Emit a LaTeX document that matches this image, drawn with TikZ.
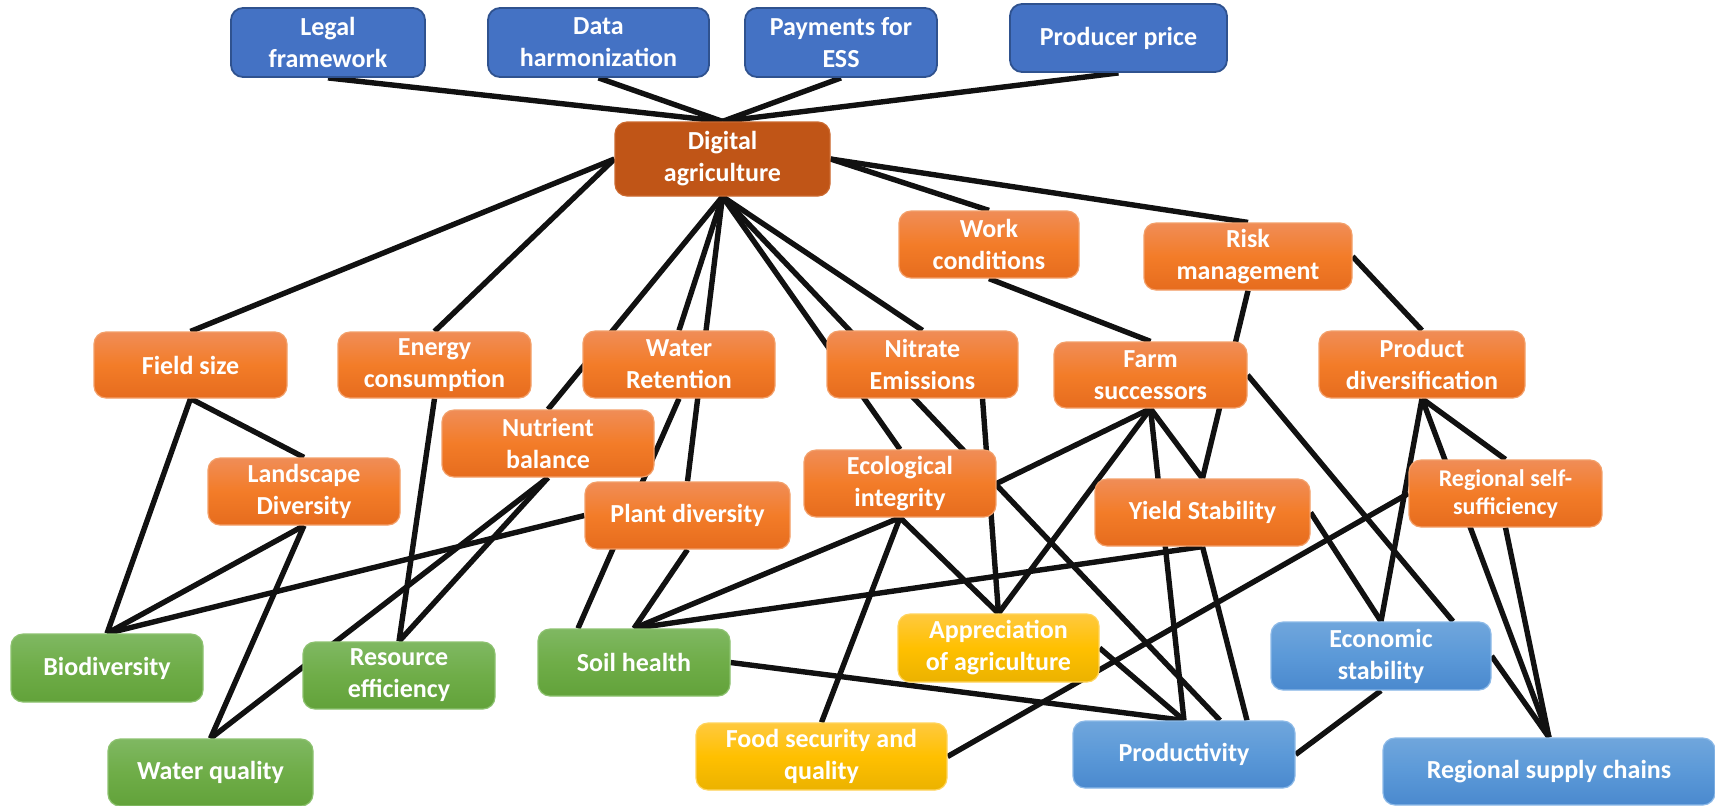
\documentclass[tikz,border=0pt]{standalone}
\usepackage{fontspec}
\setmainfont{Carlito}
\usetikzlibrary{backgrounds}

% palette
\definecolor{topblue}{HTML}{4472C4}
\definecolor{topblueedge}{HTML}{2F528F}
\definecolor{corefill}{HTML}{C05517}
\definecolor{coreedge}{HTML}{CC6A30}
\definecolor{orA}{HTML}{F08D57}
\definecolor{orB}{HTML}{F37C28}
\definecolor{orC}{HTML}{E66C1E}
\definecolor{orEdge}{HTML}{F3A06A}
\definecolor{grA}{HTML}{7FB862}
\definecolor{grB}{HTML}{6FAD48}
\definecolor{grC}{HTML}{62A23A}
\definecolor{grEdge}{HTML}{8DC270}
\definecolor{yeA}{HTML}{FFC93F}
\definecolor{yeB}{HTML}{FFC000}
\definecolor{yeC}{HTML}{EBB200}
\definecolor{yeEdge}{HTML}{FFD45C}
\definecolor{lbA}{HTML}{70A6DC}
\definecolor{lbB}{HTML}{5B99D8}
\definecolor{lbC}{HTML}{4A89CE}
\definecolor{lbEdge}{HTML}{8DBAE8}
\definecolor{linkcol}{HTML}{111111}

\tikzset{
  box/.style={rounded corners=6pt, inner sep=0pt, align=center, text=white,
    font=\fontsize{13}{16}\selectfont\bfseries, line width=0.6pt},
  topbox/.style={box, fill=topblue, draw=topblueedge, line width=0.9pt},
  corebox/.style={box, fill=corefill, draw=coreedge},
  orangebox/.style={box, top color=orA, bottom color=orC, middle color=orB, draw=orEdge},
  greenbox/.style={box, top color=grA, bottom color=grC, middle color=grB, draw=grEdge},
  yellowbox/.style={box, top color=yeA, bottom color=yeC, middle color=yeB, draw=yeEdge},
  lightbluebox/.style={box, top color=lbA, bottom color=lbC, middle color=lbB, draw=lbEdge},
  smalltext/.style={font=\fontsize{12}{14}\selectfont\bfseries},
  link/.style={line width=2.7pt, draw=linkcol}
}

\begin{document}
\begin{tikzpicture}[x=0.5pt, y=-0.5pt]
\useasboundingbox (0,0) rectangle (1715,805);

% policy drivers
\node[topbox, minimum width=97pt, minimum height=34.5pt] (legal) at (328,42.5) {Legal\\framework};
\node[topbox, minimum width=110.5pt, minimum height=34.5pt] (data) at (598.5,42.5) {Data\\harmonization};
\node[topbox, minimum width=96pt, minimum height=34.5pt] (pay) at (841,42.5) {Payments for\\ESS};
\node[topbox, minimum width=108.5pt, minimum height=34pt] (price) at (1118.5,38) {Producer price};

% central node
\node[corebox, minimum width=107.5pt, minimum height=37pt] (da) at (722.5,159) {Digital\\agriculture};

% intermediate effects
\node[orangebox, minimum width=90pt, minimum height=33.5pt] (work) at (989,244.5) {Work\\conditions};
\node[orangebox, minimum width=104pt, minimum height=33.5pt] (risk) at (1248,256.5) {Risk\\management};
\node[orangebox, minimum width=96.5pt, minimum height=33pt] (field) at (190.5,365) {Field size};
\node[orangebox, minimum width=96.5pt, minimum height=33pt] (energy) at (434.5,365) {Energy\\consumption};
\node[orangebox, minimum width=96pt, minimum height=33.5pt] (wr) at (679,364.5) {Water\\Retention};
\node[orangebox, minimum width=95.5pt, minimum height=33.5pt] (nitrate) at (922.5,364.5) {Nitrate\\Emissions};
\node[orangebox, minimum width=96.5pt, minimum height=33pt] (farm) at (1150.5,375) {Farm\\successors};
\node[orangebox, minimum width=103pt, minimum height=33.5pt] (pd) at (1422,364.5) {Product\\diversification};
\node[orangebox, minimum width=96pt, minimum height=33.5pt] (landscape) at (304,491.5) {Landscape\\Diversity};
\node[orangebox, minimum width=106pt, minimum height=33.5pt] (nutrient) at (548,443.5) {Nutrient\\balance};
\node[orangebox, minimum width=102.5pt, minimum height=33.5pt] (plant) at (687.5,515.5) {Plant diversity};
\node[orangebox, minimum width=96pt, minimum height=33.5pt] (eco) at (900,483.5) {Ecological\\integrity};
\node[orangebox, minimum width=107.5pt, minimum height=33.5pt] (yield) at (1202.5,512.5) {Yield Stability};
\node[orangebox, smalltext, minimum width=96.5pt, minimum height=33.5pt] (rss) at (1505.5,493.5) {Regional self-\\sufficiency};

% ecological outcomes
\node[greenbox, minimum width=96pt, minimum height=34pt] (biodiv) at (107,668) {Biodiversity};
\node[greenbox, minimum width=96pt, minimum height=33.5pt] (resource) at (399,675.5) {Resource\\efficiency};
\node[greenbox, minimum width=96pt, minimum height=33.5pt] (soil) at (634,662.5) {Soil health};
\node[greenbox, minimum width=102.5pt, minimum height=33.5pt] (waterq) at (210.5,772.5) {Water quality};

% social outcomes
\node[yellowbox, minimum width=125.5pt, minimum height=33.5pt] (food) at (821.5,756.5) {Food security and\\quality};
\node[yellowbox, minimum width=100.5pt, minimum height=34pt] (apprec) at (998.5,648) {Appreciation\\of agriculture};

% economic outcomes
\node[lightbluebox, minimum width=110pt, minimum height=34pt] (econ) at (1381,656) {Economic\\stability};
\node[lightbluebox, minimum width=111pt, minimum height=33.5pt] (prod) at (1184,754.5) {Productivity};
\node[lightbluebox, minimum width=166pt, minimum height=33.5pt] (rsc) at (1549,771.5) {Regional supply chains};

\begin{pgfonlayer}{background}
% drivers into the central node
\draw[link] (legal.south) -- (da.north);
\draw[link] (data.south) -- (da.north);
\draw[link] (pay.south) -- (da.north);
\draw[link] (price.south) -- (da.north);
% central node outwards
\draw[link] (da.west) -- (field.north);
\draw[link] (da.west) -- (energy.north);
\draw[link] (da.south) -- (nutrient.north);
\draw[link] (da.south) -- (wr.north);
\draw[link] (da.south) -- (plant.north);
\draw[link] (da.south) -- (eco.north);
\draw[link] (da.south) -- ([xshift=18pt]prod.north);
\draw[link] (da.south) -- (nitrate.north);
\draw[link] (da.east) -- (work.north);
\draw[link] (da.east) -- (risk.north);
% intermediate links
\draw[link] (work.south) -- (farm.north);
\draw[link] (risk.south) -- (yield.north);
\draw[link] (risk.east) -- (pd.north);
\draw[link] (field.south) -- (biodiv.north);
\draw[link] (field.south) -- (landscape.north);
\draw[link] (landscape.south) -- (biodiv.north);
\draw[link] (landscape.south) -- (waterq.north);
\draw[link] (plant.west) -- (biodiv.north);
\draw[link] (nutrient.south) -- (resource.north);
\draw[link] (nutrient.south) -- (waterq.north);
\draw[link] (energy.south) -- (resource.north);
\draw[link] (wr.south) -- ([xshift=-28pt]soil.north);
\draw[link] (plant.south) -- (soil.north);
\draw[link] (eco.south) -- (soil.north);
\draw[link] (yield.south) -- (soil.north);
\draw[link] (soil.east) -- (prod.north);
\draw[link] ([xshift=30pt]nitrate.south) -- (apprec.north);
\draw[link] (eco.south) -- (apprec.north);
\draw[link] (eco.south) -- (food.north);
\draw[link] (farm.south) -- (eco.east);
\draw[link] (farm.south) -- (apprec.north);
\draw[link] (farm.south) -- (prod.north);
\draw[link] (farm.south) -- (yield.north);
\draw[link] (farm.east) -- ([xshift=36pt]econ.north);
\draw[link] (yield.south) -- ([xshift=31.5pt]prod.north);
\draw[link] (yield.east) -- (econ.north);
\draw[link] (apprec.east) -- (prod.north);
\draw[link] (rss.west) -- (food.east);
\draw[link] (pd.south) -- (econ.north);
\draw[link] (pd.south) -- (rss.north);
\draw[link] (pd.south) -- (rsc.north);
\draw[link] (rss.south) -- (rsc.north);
\draw[link] (econ.east) -- (rsc.north);
\draw[link] (econ.south) -- (prod.east);
\end{pgfonlayer}
\end{tikzpicture}
\end{document}
